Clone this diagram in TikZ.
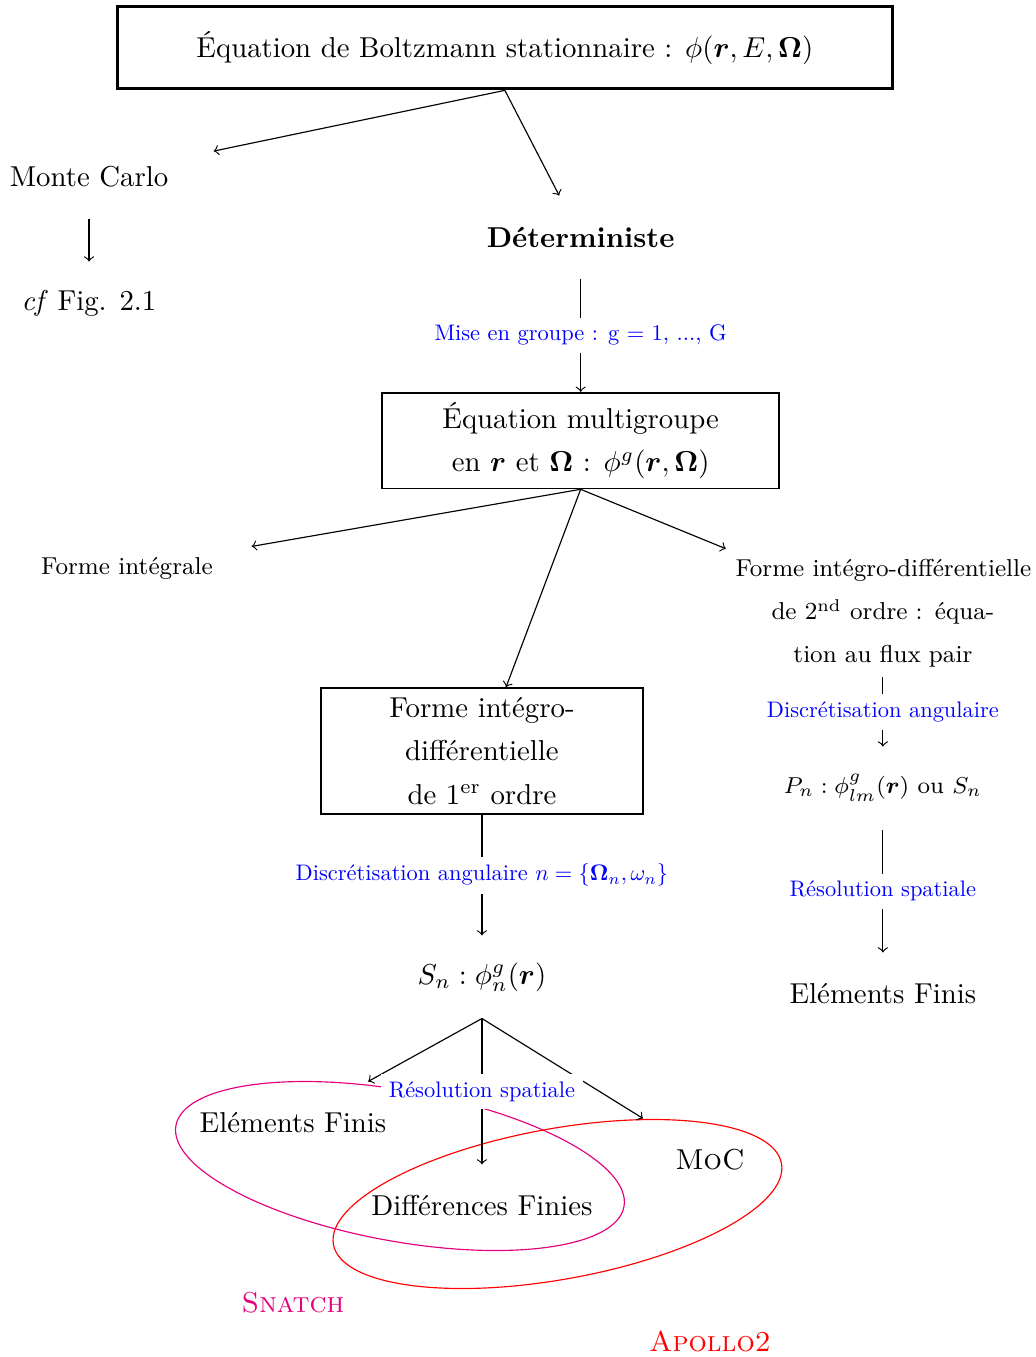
\documentclass[tikz,border=0pt]{standalone}
\usepackage{amsmath, amssymb, bm}
\usepackage{tikz}
\definecolor{snatchpink}{RGB}{230,0,126}

\begin{document}
\begin{tikzpicture}[font=\fontsize{10}{15}\selectfont,
  lvl/.style={minimum width=3.03cm, minimum height=1cm, align=center},
  boite/.style={draw, semithick, align=center},
  etape/.style={fill=white, text=blue, scale=0.78},
  petit/.style={font=\fontsize{8.5}{15}\selectfont}]
  \useasboundingbox (0,0) rectangle (12.65,16.57);
  % Boltzmann equation, then Monte Carlo / deterministic split
  \node[boite, line width=1pt, minimum width=9.47cm, minimum height=1.01cm] (boltz) at (6.165,15.989) {Équation de Boltzmann stationnaire : $\phi(\bm{r},E,\bm{\Omega})$};
  \node[lvl] (mc) at (1.087,14.408) {Monte Carlo};
  \node[lvl] (cf) at (1.087,12.869) {\textit{cf} Fig. 2.1};
  \node[lvl] (det) at (7.09,13.675) {\textbf{Déterministe}};
  \node[boite, minimum width=4.85cm, minimum height=1.16cm] (multi) at (7.09,11.190) {Équation multigroupe\\en $\bm{r}$ et $\bm{\Omega}$ : $\phi^g(\bm{r},\bm{\Omega})$};
  % Three forms of the multigroup equation
  \node[lvl, petit] (integ) at (1.551,9.634) {Forme intégrale};
  \node[petit, text width=3.6cm, align=center] (second) at (10.781,9.084) {\mbox{Forme intégro-différentielle}\\de 2\textsuperscript{nd} ordre : équa-\\tion au flux pair};
  \node[boite, minimum width=3.93cm, minimum height=1.54cm] (first) at (5.885,7.399) {Forme intégro-\\différentielle\\de 1\textsuperscript{er} ordre};
  % Right branch
  \node[lvl, font=\fontsize{8.2}{10}\selectfont] (pn) at (10.781,6.947) {$P_n : \phi^g_{lm}(\bm{r})$ ou $S_n$};
  \node[lvl] (efd) at (10.781,4.432) {Eléments Finis};
  % Middle branch and spatial schemes
  \node[lvl] (sn) at (5.885,4.640) {$S_n : \phi^g_n(\bm{r})$};
  \node[lvl] (efg) at (3.578,2.857) {Eléments Finis};
  \node[lvl] (df) at (5.885,1.844) {Différences Finies};
  \node[lvl] (moc) at (8.669,2.405) {\textsc{MoC}};
  \node[snatchpink] (snatch) at (3.578,0.659) {\textsc{Snatch}};
  \node[red] (apollo) at (8.669,0.195) {\textsc{Apollo2}};
  % Codes grouping the schemes
  \draw[snatchpink, shift={(4.884,2.332)}, rotate=-10.25] (0,0) ellipse (2.78 and 0.92);
  \draw[red, shift={(6.807,1.868)}, rotate=10.25] (0,0) ellipse (2.78 and 0.92);
  % Connectors
  \draw[->] (boltz.south) -- (mc);
  \draw[->] (boltz.south) -- (det);
  \draw[->] (mc) -- (cf);
  \draw[->] (det) -- node[etape] {Mise en groupe : g $=$ 1, ..., G} (multi);
  \draw[->] (multi.south) -- (integ);
  \draw[->] (multi.south) -- (first);
  \draw[->] (multi.south) -- (second);
  \draw[->] (second) -- node[etape] {Discrétisation angulaire} (pn);
  \draw[->] (pn) -- node[etape] {Résolution spatiale} (efd);
  \draw[->] (first) -- node[etape] {Discrétisation angulaire $n = \{\bm{\Omega}_n, \omega_n\}$} (sn);
  \draw[->] (sn.south) -- (efg);
  \draw[->] (sn.south) -- (moc);
  \draw[->] (sn.south) -- node[etape] {Résolution spatiale} (df);
\end{tikzpicture}
\end{document}
